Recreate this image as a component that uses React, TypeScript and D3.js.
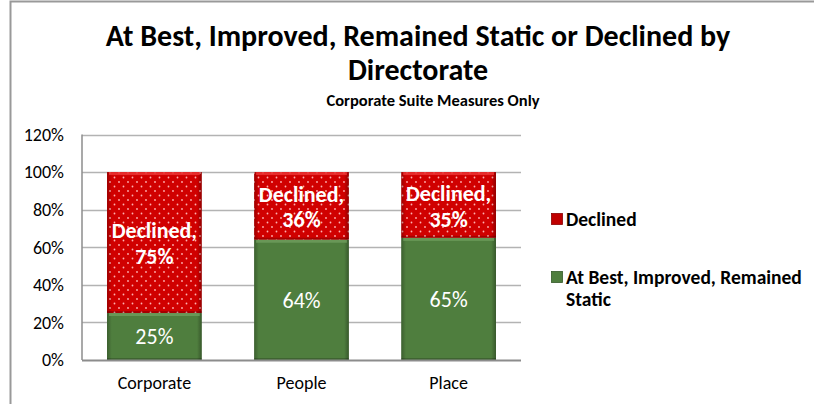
import React, { useEffect, useRef } from "react";
import * as d3 from "d3";

const categories = ["Corporate", "People", "Place"];
const improved = [25, 64, 65];
const declined = [75, 36, 35];
const yTicks = [0, 20, 40, 60, 80, 100, 120];
const seriesNames = ["Declined", "At Best, Improved, Remained Static"];

const FONT = "Calibri, Carlito, 'Open Sans', 'Liberation Sans', sans-serif";

const App: React.FC = () => {
  const svgRef = useRef<SVGSVGElement | null>(null);

  useEffect(() => {
    if (!svgRef.current) return;
    const svg = d3.select(svgRef.current);
    svg.selectAll("*").remove();

    const width = 814;
    const height = 404;
    const left = 82;
    const right = 521;
    const top = 134.5;
    const bottom = 360;

    const defs = svg.append("defs");

    // dotted red fill
    const pat = defs.append("pattern")
      .attr("id", "dots")
      .attr("width", 9)
      .attr("height", 9)
      .attr("patternUnits", "userSpaceOnUse");
    pat.append("rect").attr("width", 9).attr("height", 9).attr("fill", "#d00000");
    pat.append("circle").attr("cx", 2).attr("cy", 2).attr("r", 0.9).attr("fill", "#ffb0b0");
    pat.append("circle").attr("cx", 6.5).attr("cy", 6.5).attr("r", 0.9).attr("fill", "#ffb0b0");

    // side shading for the bevel look
    const side = defs.append("linearGradient").attr("id", "side").attr("x1", 0).attr("x2", 1);
    side.append("stop").attr("offset", "0").attr("stop-color", "#000").attr("stop-opacity", 0.25);
    side.append("stop").attr("offset", "0.05").attr("stop-color", "#000").attr("stop-opacity", 0);
    side.append("stop").attr("offset", "0.95").attr("stop-color", "#000").attr("stop-opacity", 0);
    side.append("stop").attr("offset", "1").attr("stop-color", "#000").attr("stop-opacity", 0.3);

    svg.attr("width", width).attr("height", height);

    // outer frame
    svg.append("path")
      .attr("d", `M10.5,${height} V1.5 H${width}`)
      .attr("fill", "none")
      .attr("stroke", "#999")
      .attr("stroke-width", 2);

    const x = d3.scaleBand<string>().domain(categories).range([left, right]).paddingInner(0.356).paddingOuter(0.17);
    const y = d3.scaleLinear().domain([0, 120]).range([bottom, top]);

    // gridlines
    svg.append("g")
      .selectAll("line")
      .data(yTicks.filter((t) => t > 0))
      .join("line")
      .attr("x1", left)
      .attr("x2", right)
      .attr("y1", (d) => Math.round(y(d)) + 0.5)
      .attr("y2", (d) => Math.round(y(d)) + 0.5)
      .attr("stroke", "#b3b3b3")
      .attr("stroke-width", 1.5);

    // y tick labels
    svg.append("g")
      .selectAll("text")
      .data(yTicks)
      .join("text")
      .attr("x", 64)
      .attr("y", (d) => y(d))
      .attr("dy", "0.35em")
      .attr("text-anchor", "end")
      .attr("font-family", FONT)
      .attr("font-size", 18)
      .attr("fill", "#000")
      .text((d) => `${d}%`);

    const segs = categories.flatMap((c, i) => [
      { cat: c, key: "improved", y0: 0, y1: improved[i], v: improved[i] },
      { cat: c, key: "declined", y0: improved[i], y1: improved[i] + declined[i], v: declined[i] },
    ]);

    const bars = svg.append("g");
    segs.forEach((s) => {
      const bx = x(s.cat)!;
      const bw = x.bandwidth();
      const yt = y(s.y1);
      const yb = y(s.y0);
      const g = bars.append("g");
      g.append("rect")
        .attr("x", bx).attr("y", yt).attr("width", bw).attr("height", yb - yt)
        .attr("fill", s.key === "declined" ? "url(#dots)" : "#4f7e3e");
      g.append("rect")
        .attr("x", bx).attr("y", yt).attr("width", bw).attr("height", yb - yt)
        .attr("fill", "url(#side)");
      // top highlight
      g.append("rect")
        .attr("x", bx + 2).attr("y", yt).attr("width", bw - 4).attr("height", 3)
        .attr("fill", s.key === "declined" ? "#e83030" : "#6c9a5a")
        .attr("opacity", 0.9);
      // bottom dark edge
      g.append("rect")
        .attr("x", bx).attr("y", yb - 2).attr("width", bw).attr("height", 2)
        .attr("fill", "#000").attr("opacity", 0.2);

      const cx = bx + bw / 2;
      const cy = (yt + yb) / 2;
      if (s.key === "declined") {
        const t = g.append("text")
          .attr("x", cx)
          .attr("y", cy)
          .attr("text-anchor", "middle")
          .attr("font-family", FONT)
          .attr("font-size", 22)
          .attr("font-weight", "bold")
          .attr("fill", "#fff");
        t.append("tspan").attr("x", cx).attr("dy", "-0.2em").text("Declined,");
        t.append("tspan").attr("x", cx).attr("dy", "1.18em").text(`${s.v}%`);
      } else {
        g.append("text")
          .attr("x", cx)
          .attr("y", cy)
          .attr("dy", "0.35em")
          .attr("text-anchor", "middle")
          .attr("font-family", FONT)
          .attr("font-size", 22)
          .attr("fill", "#fff")
          .text(`${s.v}%`);
      }
    });

    // axes lines
    svg.append("line")
      .attr("x1", left).attr("x2", left).attr("y1", top).attr("y2", bottom)
      .attr("stroke", "#8c8c8c").attr("stroke-width", 1.5);
    svg.append("line")
      .attr("x1", left).attr("x2", right).attr("y1", bottom + 0.5).attr("y2", bottom + 0.5)
      .attr("stroke", "#8c8c8c").attr("stroke-width", 2);

    // x labels
    svg.append("g")
      .selectAll("text")
      .data(categories)
      .join("text")
      .attr("x", (d) => x(d)! + x.bandwidth() / 2)
      .attr("y", 389)
      .attr("text-anchor", "middle")
      .attr("font-family", FONT)
      .attr("font-size", 18)
      .attr("fill", "#000")
      .text((d) => d);

    // titles
    const title = svg.append("text")
      .attr("text-anchor", "middle")
      .attr("font-family", FONT)
      .attr("font-size", 30)
      .attr("font-weight", "bold")
      .attr("fill", "#000");
    title.append("tspan").attr("x", 418).attr("y", 46).text("At Best, Improved, Remained Static or Declined by");
    title.append("tspan").attr("x", 418).attr("y", 80).text("Directorate");
    svg.append("text")
      .attr("x", 433).attr("y", 106)
      .attr("text-anchor", "middle")
      .attr("font-family", FONT)
      .attr("font-size", 16.5)
      .attr("font-weight", "bold")
      .text("Corporate Suite Measures Only");

    // legend
    const leg = svg.append("g");
    const legY = [219, 277];
    seriesNames.forEach((name, i) => {
      leg.append("rect")
        .attr("x", 551.5).attr("y", legY[i] - 5.5).attr("width", 11).attr("height", 11)
        .attr("fill", i === 0 ? "#c00000" : "#4f7e3e")
        .attr("stroke", i === 0 ? "#8a0000" : "#345a28")
        .attr("stroke-width", 0.8);
      const t = leg.append("text")
        .attr("x", 566).attr("y", legY[i])
        .attr("dy", "0.35em")
        .attr("font-family", FONT)
        .attr("font-size", 19.5)
        .attr("font-weight", "bold")
        .attr("fill", "#000");
      if (i === 0) {
        t.text(name);
      } else {
        t.append("tspan").attr("x", 566).text("At Best, Improved, Remained");
        t.append("tspan").attr("x", 566).attr("dy", "1.13em").text("Static");
      }
    });
  }, []);

  return <svg ref={svgRef} style={{ position: "absolute", left: 0, top: 0 }} />;
};

export default App;
